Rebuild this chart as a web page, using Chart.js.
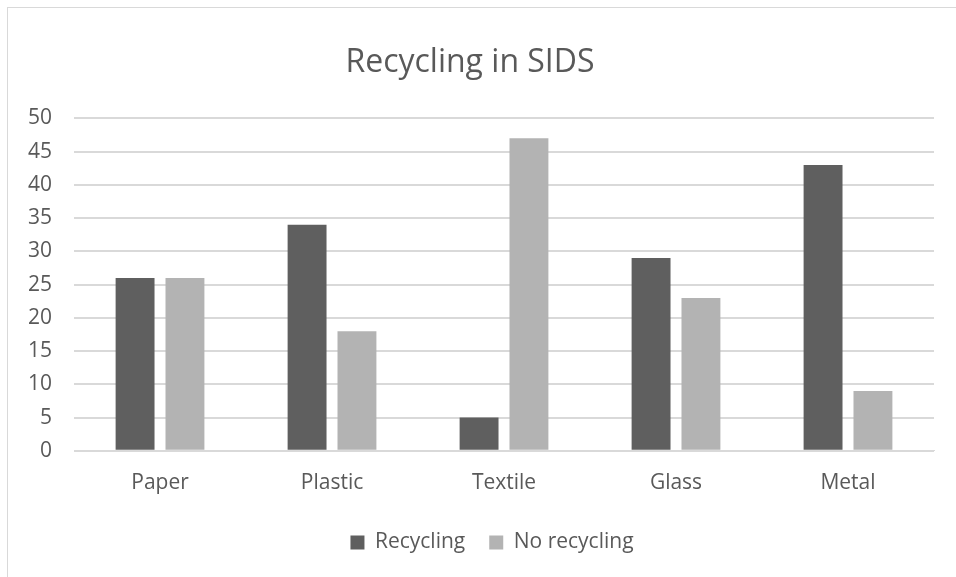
<!DOCTYPE html>
<html>
<head>
<meta charset="utf-8">
<script src="https://cdn.jsdelivr.net/npm/chart.js@4"></script>
<style>
  body { margin: 0; background: #fff; }
  #wrap { position: relative; width: 956px; height: 577px; }
  #frame { position: absolute; left: 7px; top: 7px; width: 960px; height: 600px; border: 1px solid #d9d9d9; box-sizing: border-box; }
  canvas { position: absolute; left: 0; top: 0; }
</style>
</head>
<body>
<div id="wrap">
  <div id="frame"></div>
  <canvas id="chart" width="956" height="577"></canvas>
</div>
<script>
const categories = ['Paper', 'Plastic', 'Textile', 'Glass', 'Metal'];
const recycling = [26, 34, 5, 29, 43];
const noRecycling = [26, 18, 47, 23, 9];
const yTicks = [0, 5, 10, 15, 20, 25, 30, 35, 40, 45, 50];

const textColor = '#595959';
const gridColor = '#d9d9d9';
const fontFamily = "'Open Sans', 'Liberation Sans', sans-serif";

// the legend in the original sits a little right of centre
const legendShift = {
    id: 'legendShift',
    beforeDraw(chart) {
        if (!chart.legend._shifted) {
            chart.legend.left += 22;
            chart.legend.right += 22;
            chart.legend._shifted = true;
        }
    }
};

new Chart(document.getElementById('chart'), {
    type: 'bar',
    data: {
        labels: categories,
        datasets: [
            {
                label: 'Recycling',
                data: recycling,
                backgroundColor: '#5f5f5f',
                categoryPercentage: 0.58,
                barPercentage: 0.78
            },
            {
                label: 'No recycling',
                data: noRecycling,
                backgroundColor: '#b3b3b3',
                categoryPercentage: 0.58,
                barPercentage: 0.78
            }
        ]
    },
    options: {
        responsive: false,
        animation: false,
        layout: { padding: { left: 6, right: 22, top: 0, bottom: 14 } },
        plugins: {
            title: {
                display: true,
                text: 'Recycling in SIDS',
                color: textColor,
                font: { family: fontFamily, size: 32, weight: 'normal' },
                padding: { top: 44, bottom: 36 }
            },
            legend: {
                position: 'bottom',
                labels: {
                    color: textColor,
                    font: { family: fontFamily, size: 21 },
                    boxWidth: 14,
                    boxHeight: 14,
                    padding: 24
                }
            },
            tooltip: { enabled: false }
        },
        scales: {
            x: {
                grid: { display: false },
                border: { color: gridColor },
                ticks: {
                    color: textColor,
                    font: { family: fontFamily, size: 21 },
                    padding: 12
                }
            },
            y: {
                min: 0,
                max: 50,
                afterBuildTicks: axis => { axis.ticks = yTicks.map(v => ({ value: v })); },
                grid: { color: gridColor, lineWidth: 2, drawTicks: false },
                border: { display: false },
                ticks: {
                    color: textColor,
                    font: { family: fontFamily, size: 21 },
                    padding: 22
                }
            }
        }
    },
    plugins: [legendShift]
});
</script>
</body>
</html>
